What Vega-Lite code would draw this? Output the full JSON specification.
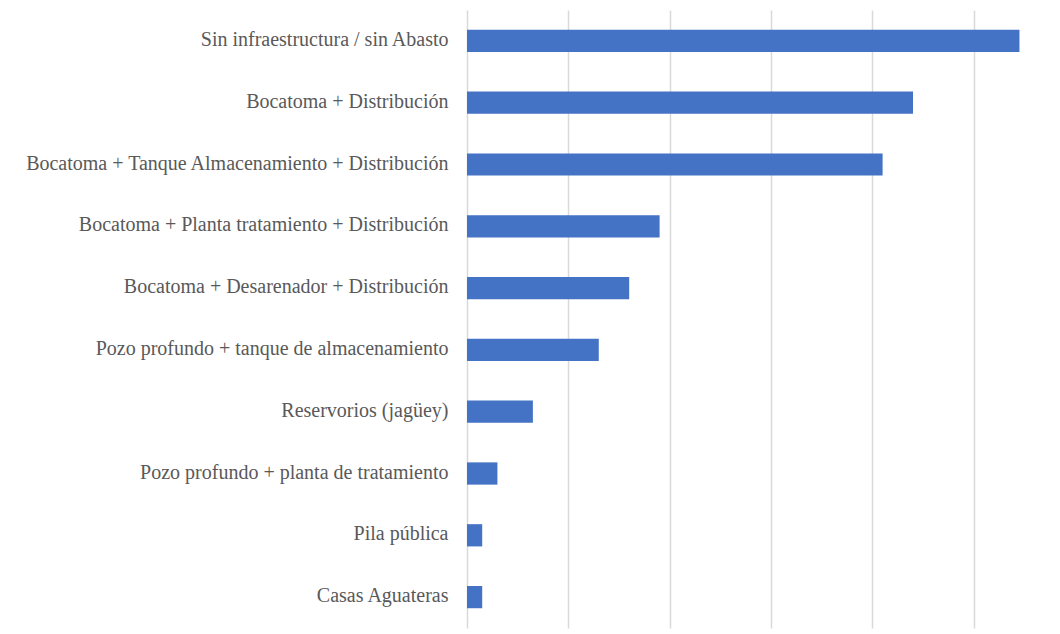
{
  "$schema": "https://vega.github.io/schema/vega-lite/v6.json",
  "width": 593,
  "height": 618,
  "autosize": {"type": "none"},
  "padding": {"left": 467, "top": 10, "right": 0, "bottom": 6},
  "background": "white",
  "data": {
    "values": [
      {"tipo": "Sin infraestructura / sin Abasto\u00a0", "n": 109},
      {"tipo": "Bocatoma + Distribución", "n": 88},
      {"tipo": "Bocatoma + Tanque Almacenamiento + Distribución", "n": 82},
      {"tipo": "Bocatoma + Planta tratamiento + Distribución", "n": 38},
      {"tipo": "Bocatoma + Desarenador + Distribución", "n": 32},
      {"tipo": "Pozo profundo + tanque de almacenamiento", "n": 26},
      {"tipo": "Reservorios (jagüey)", "n": 13},
      {"tipo": "Pozo profundo + planta de tratamiento", "n": 6},
      {"tipo": "Pila pública", "n": 3},
      {"tipo": "Casas Aguateras", "n": 3}
    ]
  },
  "mark": {"type": "bar", "color": "#4472C4"},
  "encoding": {
    "y": {
      "field": "tipo",
      "type": "nominal",
      "sort": null,
      "scale": {"paddingInner": 0.64, "paddingOuter": 0.32},
      "axis": {
        "title": null,
        "domain": false,
        "ticks": false,
        "labelFont": "Liberation Serif",
        "labelFontSize": 20,
        "labelColor": "#595959",
        "labelPadding": 19,
        "labelLimit": 0,
        "labelOffset": -1
      }
    },
    "x": {
      "field": "n",
      "type": "quantitative",
      "scale": {"domain": [0, 117], "nice": false},
      "axis": {
        "title": null,
        "labels": false,
        "ticks": false,
        "domain": false,
        "values": [0, 20, 40, 60, 80, 100],
        "grid": true,
        "gridColor": "#d9d9d9",
        "gridWidth": 1.5
      }
    }
  },
  "config": {"view": {"stroke": null}}
}
